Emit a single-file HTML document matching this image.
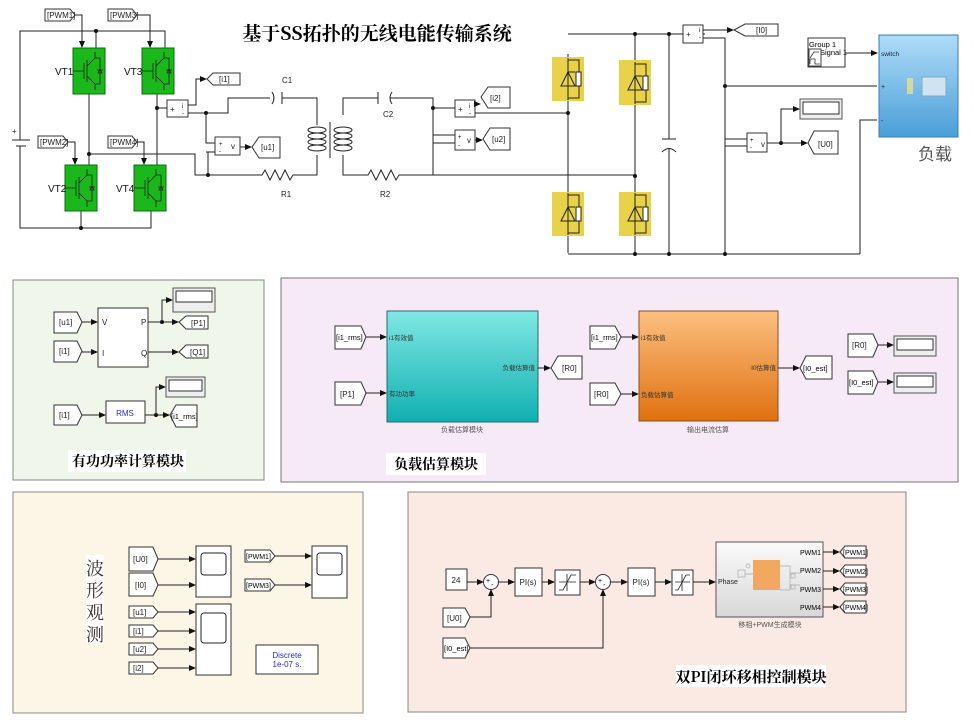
<!DOCTYPE html>
<html><head><meta charset="utf-8">
<style>
html,body{margin:0;padding:0;background:#fff;}
svg{display:block;font-family:"Liberation Sans","Noto Sans CJK SC",sans-serif;}
.w{stroke:#222;stroke-width:1;fill:none;}
.b{fill:#fff;stroke:#333;stroke-width:1;}
.t{font-size:8px;fill:#222;}
.cn{font-family:"Noto Serif CJK SC","Noto Sans CJK SC",serif;font-weight:bold;fill:#000;}
</style></head><body>
<svg width="974" height="727" viewBox="0 0 974 727" xmlns="http://www.w3.org/2000/svg">
<defs>
<marker id="a" markerWidth="7" markerHeight="6" refX="6" refY="3" orient="auto" markerUnits="userSpaceOnUse"><path d="M0,0 L7,3 L0,6z" fill="#111"/></marker>
<linearGradient id="cy" x1="0" y1="0" x2="0" y2="1"><stop offset="0" stop-color="#80e8e4"/><stop offset="1" stop-color="#10b0b0"/></linearGradient>
<linearGradient id="or" x1="0" y1="0" x2="0" y2="1"><stop offset="0" stop-color="#fcc080"/><stop offset="1" stop-color="#e07010"/></linearGradient>
<linearGradient id="bl" x1="0" y1="0" x2="0" y2="1"><stop offset="0" stop-color="#b0dcf8"/><stop offset="1" stop-color="#4a9fd8"/></linearGradient>
<linearGradient id="gr" x1="0" y1="0" x2="0" y2="1"><stop offset="0" stop-color="#fafafa"/><stop offset="1" stop-color="#d8d8d8"/></linearGradient>
</defs>

<!-- ===== TOP CIRCUIT ===== -->
<text x="377" y="40" class="cn" font-size="19" text-anchor="middle">基于SS拓扑的无线电能传输系统</text>

<polygon class="b" points="45,9 70,9 75,15 70,21 45,21"/><text x="47" y="18" class="t">[PWM1]</text>
<polygon class="b" points="108,9 132,9 137,15 132,21 108,21"/><text x="110" y="18" class="t">[PWM3]</text>
<polygon class="b" points="38,136 63,136 68,142 63,148 38,148"/><text x="40" y="145" class="t">[PWM2]</text>
<polygon class="b" points="108,136 132,136 137,142 132,148 108,148"/><text x="110" y="145" class="t">[PWM4]</text>
<path class="w" d="M75,15 H82 V47" marker-end="url(#a)"/>
<path class="w" d="M137,15 H150 V47" marker-end="url(#a)"/>
<path class="w" d="M68,142 H75 V164" marker-end="url(#a)"/>
<path class="w" d="M137,142 H144 V164" marker-end="url(#a)"/>

<path class="w" d="M20,115 V31 H165 V48"/>
<path class="w" d="M96,31 V48"/>
<circle cx="96" cy="31" r="2" fill="#111"/>
<path class="w" d="M20,175 V228 H151 V211"/>
<path class="w" d="M81,211 V228"/><circle cx="81" cy="228" r="2" fill="#111"/>
<path class="w" d="M89,94 V165"/>
<path class="w" d="M157,94 V165"/>
<circle cx="89" cy="154" r="2" fill="#111"/><circle cx="157" cy="108" r="2" fill="#111"/>
<path class="w" d="M89,154 H195 V175 H250"/>
<path class="w" d="M157,108 H167"/>
<path class="w" d="M12,140 H30 M16,146 H26" stroke-width="1.5"/>
<path class="w" d="M20,115 V140 M20,146 V175"/>
<text x="12" y="134" class="t">+</text>

<g>
<rect x="73" y="48" width="32" height="46" fill="#1bb81b" stroke="#0b6e0b"/>
<rect x="142" y="48" width="32" height="46" fill="#1bb81b" stroke="#0b6e0b"/>
<rect x="65" y="165" width="32" height="46" fill="#1bb81b" stroke="#0b6e0b"/>
<rect x="134" y="165" width="32" height="46" fill="#1bb81b" stroke="#0b6e0b"/>
<g stroke="#222" fill="none" stroke-width="0.8">
<path d="M73,71 H84 M84,63 V79 M87,60 V82 M87,66 L95,58 V52 M87,76 L95,84 V90 M95,58 H100 V84 H95 M97,70 H103 M98,73 L100,69 L102,73z"/>
<path d="M142,71 H153 M153,63 V79 M156,60 V82 M156,66 L164,58 V52 M156,76 L164,84 V90 M164,58 H169 V84 H164 M166,70 H172 M167,73 L169,69 L171,73z"/>
<path d="M65,188 H76 M76,180 V196 M79,177 V199 M79,183 L87,175 V169 M79,193 L87,201 V207 M87,175 H92 V201 H87 M89,187 H95 M90,190 L92,186 L94,190z"/>
<path d="M134,188 H145 M145,180 V196 M148,177 V199 M148,183 L156,175 V169 M148,193 L156,201 V207 M156,175 H161 V201 H156 M158,187 H164 M159,190 L161,186 L163,190z"/>
</g>
</g>
<text x="55" y="75" font-size="10" fill="#111">VT1</text>
<text x="124" y="75" font-size="10" fill="#111">VT3</text>
<text x="48" y="192" font-size="10" fill="#111">VT2</text>
<text x="116" y="192" font-size="10" fill="#111">VT4</text>

<rect class="b" x="167" y="100" width="21" height="17"/>
<text x="170" y="112" class="t">+</text><text x="182" y="108" font-size="6">i</text><text x="182" y="115" font-size="6">-</text>
<path class="w" d="M188,105 H196 V79 H206" marker-end="url(#a)"/>
<polygon class="b" points="207,79 213,73 240,73 240,85 213,85"/><text x="219" y="82" class="t">[i1]</text>
<path class="w" d="M188,113 H228 V98 H250"/>
<circle cx="206" cy="113" r="2" fill="#111"/>
<path class="w" d="M206,113 V143 H215 M206,152 H215"/>
<circle cx="208" cy="175" r="2" fill="#111"/>
<path class="w" d="M208,175 V152"/>
<rect class="b" x="215" y="137" width="25" height="18"/>
<text x="219" y="146" font-size="6">+</text><text x="219" y="153" font-size="6">-</text><text x="231" y="149" class="t">v</text>
<path class="w" d="M240,147 H251" marker-end="url(#a)"/>
<polygon class="b" points="252,147 259,137 280,137 280,158 259,158"/><text x="261" y="150" class="t">[u1]</text>

<text x="282" y="83" class="t">C1</text>
<path class="w" d="M250,98 H270 M282,98 H305 M305,98 H317 V115"/>
<path class="w" d="M272,92 Q276,98 272,104 M282,92 V104"/>
<path class="w" d="M250,175 H262 l3,-5 l5,10 l5,-10 l5,10 l5,-10 l5,10 l3,-5 H317 V165"/>
<text x="281" y="197" class="t">R1</text>
<g class="w">
<path d="M317,115 V125 M317,155 V165 M343,115 V98 H355 M343,155 V175 H355"/>
<ellipse cx="317" cy="130" rx="9" ry="3"/><ellipse cx="317" cy="136" rx="9" ry="3"/><ellipse cx="317" cy="142" rx="9" ry="3"/><ellipse cx="317" cy="148" rx="9" ry="3"/>
<ellipse cx="343" cy="130" rx="9" ry="3"/><ellipse cx="343" cy="136" rx="9" ry="3"/><ellipse cx="343" cy="142" rx="9" ry="3"/><ellipse cx="343" cy="148" rx="9" ry="3"/>
<path d="M330,122 V158"/>
</g>
<text x="383" y="117" class="t">C2</text>
<path class="w" d="M355,98 H378 M390,98 H410 H433 V175"/>
<path class="w" d="M378,92 V104 M392,92 Q388,98 392,104"/>
<path class="w" d="M355,175 H368 l3,-5 l5,10 l5,-10 l5,10 l5,-10 l5,10 l3,-5 H433 H635"/>
<text x="380" y="197" class="t">R2</text>

<circle cx="433" cy="108" r="2" fill="#111"/>
<path class="w" d="M433,108 H455 M433,135 H455 M433,175 V143 H455"/>
<rect class="b" x="455" y="100" width="20" height="17"/>
<text x="458" y="112" class="t">+</text><text x="469" y="108" font-size="6">i</text><text x="469" y="115" font-size="6">-</text>
<path class="w" d="M475,104 H480" marker-end="url(#a)"/>
<polygon class="b" points="481,97 488,87 510,87 510,108 488,108"/><text x="490" y="101" class="t">[i2]</text>
<path class="w" d="M475,113 H568"/>
<rect class="b" x="455" y="130" width="20" height="20"/>
<text x="458" y="139" font-size="6">+</text><text x="458" y="147" font-size="6">-</text><text x="467" y="143" class="t">v</text>
<path class="w" d="M475,140 H482" marker-end="url(#a)"/>
<polygon class="b" points="483,139 490,128 510,128 510,150 490,150"/><text x="492" y="142" class="t">[u2]</text>

<path class="w" d="M568,34 H705 M568,54 V253 M635,34 V253 M568,254 H860 M669,34 V115 M669,170 V254 M725,86 V254"/>
<circle cx="568" cy="113" r="2" fill="#111"/><circle cx="635" cy="176" r="2" fill="#111"/>
<circle cx="635" cy="34" r="2" fill="#111"/><circle cx="669" cy="34" r="2" fill="#111"/>
<circle cx="635" cy="254" r="2" fill="#111"/><circle cx="669" cy="254" r="2" fill="#111"/><circle cx="725" cy="254" r="2" fill="#111"/><circle cx="725" cy="86" r="2" fill="#111"/>
<g>
<rect x="552" y="57" width="32" height="44" fill="#e8d24a"/>
<rect x="619" y="60" width="32" height="45" fill="#e8d24a"/>
<rect x="552" y="192" width="32" height="44" fill="#e8d24a"/>
<rect x="619" y="192" width="32" height="44" fill="#e8d24a"/>
<g stroke="#222" fill="none" stroke-width="1">
<path d="M568,58 V100 M568,60 H579 V98 H568 M561,86 H575 M561,86 L568,72 L575,86z M568,72 H575"/>
<rect x="576" y="72" width="5" height="14" fill="#fff"/>
<path d="M635,62 V104 M635,64 H646 V102 H635 M628,90 H642 M628,90 L635,76 L642,90z M635,76 H642"/>
<rect x="643" y="76" width="5" height="14" fill="#fff"/>
<path d="M568,193 V235 M568,195 H579 V233 H568 M561,221 H575 M561,221 L568,207 L575,221z M568,207 H575"/>
<rect x="576" y="207" width="5" height="14" fill="#fff"/>
<path d="M635,193 V235 M635,195 H646 V233 H635 M628,221 H642 M628,221 L635,207 L642,221z M635,207 H642"/>
<rect x="643" y="207" width="5" height="14" fill="#fff"/>
</g></g>
<path class="w" d="M669,115 V139 M662,139 H676 M662,152 Q669,145 676,152 M669,148 V170"/>
<rect class="b" x="683" y="25" width="20" height="18"/>
<text x="686" y="37" class="t">+</text><text x="699" y="32" font-size="6">i</text><text x="699" y="39" font-size="6">-</text>
<path class="w" d="M703,30 H733" marker-end="url(#a)"/>
<polygon class="b" points="734,30 745,24 778,24 778,36 745,36"/><text x="756" y="33" class="t">[I0]</text>
<path class="w" d="M703,38 H725 V139 H747 M725,146 H747"/>
<path class="w" d="M725,86 H877"/>
<rect class="b" x="747" y="133" width="20" height="19"/>
<text x="750" y="142" font-size="6">+</text><text x="750" y="149" font-size="6">-</text><text x="761" y="147" class="t">v</text>
<path class="w" d="M767,143 H807" marker-end="url(#a)"/><circle cx="781" cy="143" r="2" fill="#111"/>
<path class="w" d="M781,143 V109 H799" marker-end="url(#a)"/>
<rect x="800" y="99" width="42" height="20" fill="#eee" stroke="#555"/><rect x="803" y="102" width="36" height="12" fill="#fff" stroke="#333"/>
<polygon class="b" points="808,143 814,131 838,131 838,154 814,154"/><text x="818" y="147" class="t">[U0]</text>
<path class="w" d="M860,254 V120 H877"/>
<rect class="b" x="808" y="38" width="37" height="29"/>
<text x="809" y="47" font-size="7.5">Group 1</text><text x="820" y="55" font-size="7.5">Signal 1</text>
<rect x="809" y="49" width="12" height="17" fill="#fff" stroke="#444"/>
<path d="M810,58 L814,52 H819 M810,64 V59 H815 V64 H820" stroke="#333" fill="none" stroke-width="0.8"/>
<path class="w" d="M845,53 H877" marker-end="url(#a)"/>
<rect x="879" y="35" width="79" height="102" fill="url(#bl)" stroke="#3a7fb0"/>
<text x="881" y="56" font-size="6.5" fill="#123">switch</text>
<text x="881" y="89" font-size="7" fill="#123">+</text><text x="881" y="123" font-size="7" fill="#123">-</text>
<rect x="907" y="78" width="6" height="16" fill="#e8e090" opacity="0.8"/>
<rect x="922" y="77" width="24" height="19" fill="#cfe3f0" stroke="#8ab"/>
<text x="918" y="160" font-size="17" fill="#555" font-family="Noto Sans CJK SC,sans-serif">负载</text>

<!-- ===== PANEL 1 ===== -->
<rect x="13" y="280" width="251" height="200" fill="#f1f6ea" stroke="#888"/>
<polygon class="b" points="54,312 77,312 82,322 77,333 54,333"/><text x="59" y="325" class="t">[u1]</text>
<polygon class="b" points="54,341 77,341 82,351 77,362 54,362"/><text x="59" y="354" class="t">[i1]</text>
<path class="w" d="M82,322 H97" marker-end="url(#a)"/><path class="w" d="M82,352 H97" marker-end="url(#a)"/>
<rect class="b" x="98" y="308" width="50" height="59"/>
<text x="102" y="325" class="t">V</text><text x="102" y="356" class="t">I</text><text x="141" y="325" class="t">P</text><text x="141" y="356" class="t">Q</text>
<path class="w" d="M148,322 H178" marker-end="url(#a)"/><circle cx="162" cy="322" r="2" fill="#111"/>
<path class="w" d="M162,322 V300 H172" marker-end="url(#a)"/>
<path class="w" d="M148,352 H178" marker-end="url(#a)"/>
<rect x="173" y="288" width="42" height="24" fill="#eee" stroke="#555"/><rect x="176" y="291" width="36" height="11" fill="#fff" stroke="#333"/>
<polygon class="b" points="179,322 186,316 208,316 208,329 186,329"/><text x="191" y="326" class="t">[P1]</text>
<polygon class="b" points="179,352 186,345 208,345 208,358 186,358"/><text x="190" y="355" class="t">[Q1]</text>
<polygon class="b" points="54,405 77,405 82,415 77,425 54,425"/><text x="59" y="418" class="t">[i1]</text>
<path class="w" d="M82,415 H105" marker-end="url(#a)"/>
<rect class="b" x="106" y="401" width="39" height="22"/><text x="125" y="416" font-size="8" fill="#2a2ad0" text-anchor="middle">RMS</text>
<path class="w" d="M145,415 H169" marker-end="url(#a)"/><circle cx="156" cy="415" r="2" fill="#111"/>
<path class="w" d="M156,415 V387 H165" marker-end="url(#a)"/>
<rect x="166" y="377" width="39" height="20" fill="#eee" stroke="#555"/><rect x="169" y="380" width="33" height="11" fill="#fff" stroke="#333"/>
<polygon class="b" points="170,415 176,405 197,405 197,427 176,427"/><text x="171" y="419" font-size="7.5">[i1_rms]</text>
<rect x="68" y="450" width="118" height="22" fill="#fff"/>
<text x="128" y="466" class="cn" font-size="14" text-anchor="middle">有功功率计算模块</text>

<!-- ===== PANEL 2 ===== -->
<rect x="281" y="278" width="677" height="204" fill="#f5eaf6" stroke="#777"/>
<polygon class="b" points="335,326 361,326 366,337 361,349 335,349"/><text x="336" y="340" font-size="7.5">[i1_rms]</text>
<polygon class="b" points="335,382 361,382 366,393 361,405 335,405"/><text x="340" y="397" class="t">[P1]</text>
<path class="w" d="M366,337 H386" marker-end="url(#a)"/><path class="w" d="M366,393 H386" marker-end="url(#a)"/>
<rect x="387" y="311" width="151" height="111" fill="url(#cy)" stroke="#2a6a6a"/>
<text x="389" y="340" font-size="6.5" fill="#333">i1有效值</text><text x="389" y="396" font-size="6.5" fill="#333">有功功率</text>
<text x="535" y="370" font-size="6.5" fill="#333" text-anchor="end">负载估算值</text>
<text x="462" y="432" font-size="7" fill="#555" text-anchor="middle">负载估算模块</text>
<path class="w" d="M538,368 H550" marker-end="url(#a)"/>
<polygon class="b" points="551,368 558,356 582,356 582,379 558,379"/><text x="562" y="371" class="t">[R0]</text>
<polygon class="b" points="590,326 615,326 621,337 615,349 590,349"/><text x="591" y="340" font-size="7.5">[i1_rms]</text>
<polygon class="b" points="590,383 615,383 621,394 615,405 590,405"/><text x="594" y="397" class="t">[R0]</text>
<path class="w" d="M621,337 H638" marker-end="url(#a)"/><path class="w" d="M621,394 H638" marker-end="url(#a)"/>
<rect x="639" y="311" width="139" height="110" fill="url(#or)" stroke="#8a5020"/>
<text x="641" y="340" font-size="6.5" fill="#333">i1有效值</text><text x="641" y="397" font-size="6.5" fill="#333">负载估算值</text>
<text x="776" y="370" font-size="6.5" fill="#333" text-anchor="end">I0估算值</text>
<text x="708" y="432" font-size="7" fill="#555" text-anchor="middle">输出电流估算</text>
<path class="w" d="M778,368 H799" marker-end="url(#a)"/>
<polygon class="b" points="800,368 806,356 832,356 832,379 806,379"/><text x="803" y="371" font-size="7.5">[I0_est]</text>
<polygon class="b" points="848,334 873,334 878,345 873,357 848,357"/><text x="852" y="348" class="t">[R0]</text>
<polygon class="b" points="848,371 873,371 878,382 873,394 848,394"/><text x="849" y="385" font-size="7.5">[I0_est]</text>
<path class="w" d="M878,345 H893" marker-end="url(#a)"/><path class="w" d="M878,382 H893" marker-end="url(#a)"/>
<rect x="894" y="336" width="42" height="20" fill="#eee" stroke="#555"/><rect x="897" y="339" width="36" height="11" fill="#fff" stroke="#333"/>
<rect x="894" y="373" width="42" height="20" fill="#eee" stroke="#555"/><rect x="897" y="376" width="36" height="11" fill="#fff" stroke="#333"/>
<rect x="386" y="453" width="100" height="22" fill="#fff"/>
<text x="436" y="469" class="cn" font-size="14" text-anchor="middle">负载估算模块</text>

<!-- ===== PANEL 3 ===== -->
<rect x="13" y="492" width="350" height="221" fill="#fbf6e6" stroke="#888"/>
<rect x="86" y="555" width="18" height="88" fill="#fff"/>
<text x="95" y="575" font-size="18" fill="#333" text-anchor="middle" font-family="Noto Serif CJK SC,serif">波</text>
<text x="95" y="597" font-size="18" fill="#333" text-anchor="middle" font-family="Noto Serif CJK SC,serif">形</text>
<text x="95" y="619" font-size="18" fill="#333" text-anchor="middle" font-family="Noto Serif CJK SC,serif">观</text>
<text x="95" y="641" font-size="18" fill="#333" text-anchor="middle" font-family="Noto Serif CJK SC,serif">测</text>
<polygon class="b" points="129,547 153,547 158,559 153,571 129,571"/><text x="133" y="562" class="t">[U0]</text>
<polygon class="b" points="129,573 153,573 158,585 153,596 129,596"/><text x="135" y="588" class="t">[I0]</text>
<path class="w" d="M158,559 H195" marker-end="url(#a)"/><path class="w" d="M158,585 H195" marker-end="url(#a)"/>
<rect class="b" x="196" y="546" width="35" height="51"/><rect x="201" y="553" width="25" height="22" rx="3" fill="#fff" stroke="#222"/>
<polygon class="b" points="245,550 270,550 275,556 270,562 245,562"/>
<text x="246" y="559" font-size="7">[PWM1]</text>
<polygon class="b" points="245,579 270,579 275,585 270,591 245,591"/><text x="246" y="588" font-size="7">[PWM3]</text>
<path class="w" d="M275,556 H311" marker-end="url(#a)"/><path class="w" d="M275,585 H311" marker-end="url(#a)"/>
<rect class="b" x="312" y="546" width="35" height="52"/><rect x="317" y="553" width="25" height="22" rx="3" fill="#fff" stroke="#222"/>
<polygon class="b" points="129,606 153,606 158,612 153,618 129,618"/><text x="133" y="615" class="t">[u1]</text>
<polygon class="b" points="129,625 153,625 158,631 153,637 129,637"/><text x="133" y="634" class="t">[i1]</text>
<polygon class="b" points="129,643 153,643 158,649 153,655 129,655"/><text x="133" y="652" class="t">[u2]</text>
<polygon class="b" points="129,662 153,662 158,668 153,674 129,674"/><text x="133" y="671" class="t">[i2]</text>
<path class="w" d="M158,612 H195" marker-end="url(#a)"/><path class="w" d="M158,631 H195" marker-end="url(#a)"/>
<path class="w" d="M158,649 H195" marker-end="url(#a)"/><path class="w" d="M158,668 H195" marker-end="url(#a)"/>
<rect class="b" x="196" y="604" width="35" height="71"/><rect x="201" y="613" width="25" height="30" rx="3" fill="#fff" stroke="#222"/>
<rect class="b" x="256" y="645" width="62" height="29"/>
<text x="287" y="658" font-size="8" fill="#2a2ad0" text-anchor="middle">Discrete</text>
<text x="287" y="667" font-size="8" fill="#2a2ad0" text-anchor="middle">1e-07 s.</text>

<!-- ===== PANEL 4 ===== -->
<rect x="408" y="492" width="498" height="220" fill="#fbe9e4" stroke="#888"/>
<rect class="b" x="446" y="569" width="21" height="21"/><text x="456" y="583" class="t" text-anchor="middle">24</text>
<path class="w" d="M467,582 H483" marker-end="url(#a)"/>
<circle cx="491" cy="582" r="7.5" fill="#fff" stroke="#333"/><text x="486" y="583" font-size="7">+</text><text x="491" y="587" font-size="7">-</text>
<polygon class="b" points="443,608 465,608 470,617 465,627 443,627"/><text x="447" y="621" class="t">[U0]</text>
<path class="w" d="M470,617 H491 V590" marker-end="url(#a)"/>
<polygon class="b" points="443,638 465,638 470,648 465,658 443,658"/><text x="444" y="651" font-size="7.5">[I0_est]</text>
<path class="w" d="M470,648 H603 V590" marker-end="url(#a)"/>
<path class="w" d="M498,582 H514" marker-end="url(#a)"/>
<rect class="b" x="515" y="568" width="27" height="28"/><text x="528" y="585" class="t" text-anchor="middle">PI(s)</text>
<path class="w" d="M542,582 H554" marker-end="url(#a)"/>
<rect class="b" x="555" y="570" width="25" height="25"/><path d="M559,582 H576 M567,574 V591 M559,590 H563 L571,575 H576" stroke="#222" fill="none" stroke-width="0.8"/>
<path class="w" d="M580,582 H595" marker-end="url(#a)"/>
<circle cx="603" cy="582" r="7.5" fill="#fff" stroke="#333"/><text x="598" y="583" font-size="7">+</text><text x="603" y="587" font-size="7">-</text>
<path class="w" d="M610,582 H627" marker-end="url(#a)"/>
<rect class="b" x="628" y="568" width="27" height="28"/><text x="641" y="585" class="t" text-anchor="middle">PI(s)</text>
<path class="w" d="M655,582 H671" marker-end="url(#a)"/>
<rect class="b" x="672" y="570" width="21" height="25"/><path d="M675,582 H690 M682,574 V591 M675,590 H678 L686,575 H690" stroke="#222" fill="none" stroke-width="0.8"/>
<path class="w" d="M693,582 H715" marker-end="url(#a)"/>
<rect x="716" y="542" width="107" height="75" fill="url(#gr)" stroke="#555"/>
<rect x="753" y="560" width="27" height="30" fill="#f2a860"/>
<g stroke="#aaa" fill="none" stroke-width="0.7"><rect x="738" y="570" width="7" height="7"/><circle cx="748" cy="566" r="2"/><path d="M745,574 H753 M780,566 H790 V590 H780 M790,573 H800 M790,585 H800"/><rect x="791" y="574" width="4" height="4"/><rect x="791" y="585" width="4" height="4"/></g>
<text x="718" y="584" font-size="7" fill="#222">Phase</text>
<text x="821" y="555" font-size="7" text-anchor="end">PWM1</text><text x="821" y="573" font-size="7" text-anchor="end">PWM2</text>
<text x="821" y="592" font-size="7" text-anchor="end">PWM3</text><text x="821" y="610" font-size="7" text-anchor="end">PWM4</text>
<text x="770" y="627" font-size="7" fill="#555" text-anchor="middle">移相+PWM生成模块</text>
<path class="w" d="M823,552 H839" marker-end="url(#a)"/><path class="w" d="M823,571 H839" marker-end="url(#a)"/>
<path class="w" d="M823,589 H839" marker-end="url(#a)"/><path class="w" d="M823,607 H839" marker-end="url(#a)"/>
<polygon class="b" points="840,552 845,546 866,546 866,558 845,558"/><text x="843" y="555" font-size="7">[PWM1]</text>
<polygon class="b" points="840,571 845,565 866,565 866,577 845,577"/><text x="843" y="574" font-size="7">[PWM2]</text>
<polygon class="b" points="840,589 845,583 866,583 866,595 845,595"/><text x="843" y="592" font-size="7">[PWM3]</text>
<polygon class="b" points="840,607 845,601 866,601 866,613 845,613"/><text x="843" y="610" font-size="7">[PWM4]</text>
<rect x="676" y="665" width="150" height="22" fill="#fff"/>
<text x="751" y="682" class="cn" font-size="15" text-anchor="middle">双PI闭环移相控制模块</text>
</svg>
</body></html>
